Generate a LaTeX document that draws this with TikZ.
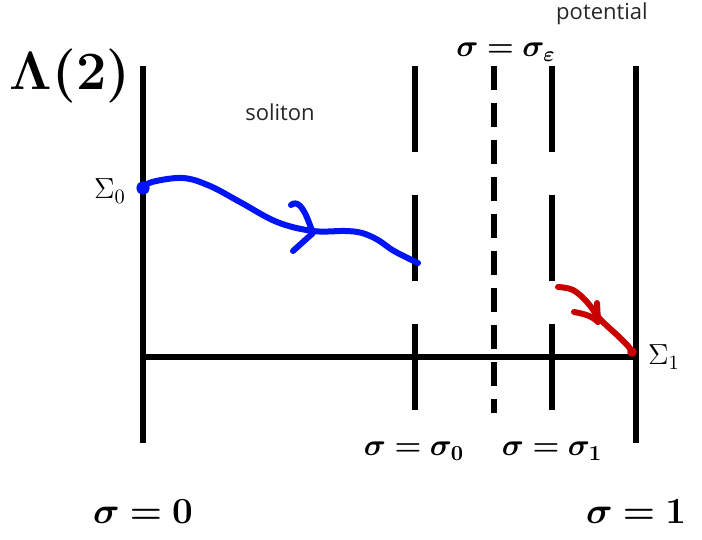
\RequirePackage{fix-cm}
\documentclass[tikz,border=0pt]{standalone}
\usepackage{amsmath,bm}
\usepackage{fontspec}
\newfontfamily\wordfont{Open Sans}
\definecolor{penblue}{RGB}{0,20,245}
\definecolor{penred}{RGB}{200,0,0}
\begin{document}
\begin{tikzpicture}[x=0.5pt,y=-0.5pt,
  wall/.style={line width=2.6pt},
  cutwall/.style={line width=2.6pt,dash pattern=on 43pt off 21.5pt},
  epswall/.style={line width=2.6pt,dash pattern=on 12pt off 6.5pt},
  pen/.style={line width=3pt,line cap=round,line join=round},
  bigmath/.style={font=\fontsize{18.4}{22}\selectfont},
  midmath/.style={font=\fontsize{15.3}{19}\selectfont},
  word/.style={font=\wordfont\fontsize{11}{13}\selectfont,text=black!85}]
\useasboundingbox (0,0) rectangle (702,540);
% walls of the strip
\coordinate (ltop) at (143,66);
\coordinate (lbot) at (143,443);
\coordinate (rtop) at (636,66);
\coordinate (rbot) at (636,443);
\coordinate (atop) at (415,66);
\coordinate (abot) at (415,412);
\coordinate (etop) at (494,66);
\coordinate (ebot) at (494,413);
\coordinate (btop) at (552,66);
\coordinate (bbot) at (552,412);
\coordinate (axl) at (143,357);
\coordinate (axr) at (636,357);
\draw[wall] (ltop) -- (lbot);
\draw[wall] (rtop) -- (rbot);
\draw[cutwall] (atop) -- (abot);
\draw[cutwall] (btop) -- (bbot);
\draw[epswall] (etop) -- (ebot);
\draw[wall] (axl) -- (axr);
% labels
\node[font=\fontsize{27}{30}\selectfont] (lam) at (70,76) {$\bm{\Lambda(2)}$};
\node[word] (sol) at (280,112) {soliton};
\node[word] (pot) at (602,14) {potential};
\node[midmath] (seps) at (506,52) {$\bm{\sigma=\sigma_\varepsilon}$};
\node[midmath] (szero) at (414,451) {$\bm{\sigma=\sigma_0}$};
\node[midmath] (sone) at (552,451) {$\bm{\sigma=\sigma_1}$};
\node[bigmath] (left) at (143,512) {$\bm{\sigma=0}$};
\node[bigmath] (right) at (636,512) {$\bm{\sigma=1}$};
\node[font=\fontsize{14.5}{16}\selectfont] (S0) at (110,191) {$\Sigma_0$};
\node[font=\fontsize{14.5}{16}\selectfont] (S1) at (664,357) {$\Sigma_1$};
% flow lines
\coordinate (p0) at (143,188);
\coordinate (p1) at (418,263);
\fill[penblue] (p0) circle (3.3pt);
\draw[pen,penblue] plot[smooth,tension=0.6] coordinates {(p0) (152,182) (183,178)
  (210,186) (240,202) (277,222) (313,231) (345,231) (362,233) (378,240)
  (394,251) (p1)};
\draw[pen,penblue] (291,205) .. controls (297,200) and (303,207) .. (308,220)
  -- (313,233) -- (293,251);
\coordinate (q0) at (558,287);
\coordinate (q1) at (632,352);
\draw[pen,penred] plot[smooth,tension=0.6] coordinates {(q0) (573,290) (587,302)
  (600,319) (617,335) (628,346) (q1)};
\draw[pen,penred] (574,312) .. controls (585,314) and (592,316) .. (598,322);
\draw[pen,penred] (597,303) -- (598,322);
\fill[penred] (q1) circle (2.4pt);
\end{tikzpicture}
\end{document}
